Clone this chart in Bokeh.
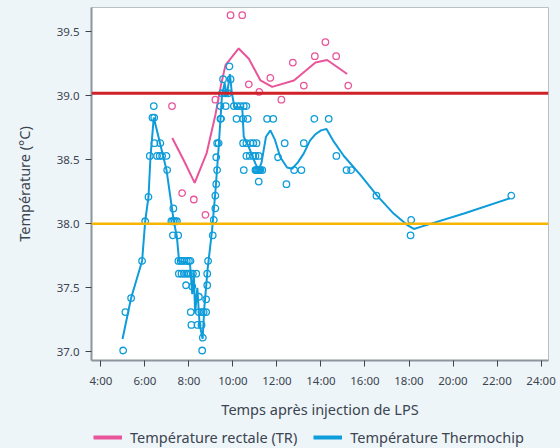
from bokeh.plotting import figure
from bokeh.layouts import column
from bokeh.models import FixedTicker, Span, Legend, LegendItem, Range1d
from bokeh.embed import file_html
from bokeh.resources import INLINE

# ---- data (hours after LPS injection, temperature in °C) ----
tc_t = [5.01, 5.11, 5.37, 5.87, 6.01, 6.16, 6.22, 6.34, 6.42, 6.40, 6.43, 6.70,
        6.55, 6.67, 6.78, 6.98, 7.01, 7.29,
        7.20, 7.28, 7.36, 7.45, 7.27, 7.51,
        7.52, 7.62, 7.70, 7.80, 7.90, 8.00, 8.07,
        7.54, 7.66, 7.77, 7.88, 7.98, 8.08, 8.18, 8.33,
        7.87, 8.15, 8.45,
        8.08, 8.45, 8.57, 8.67, 8.78,
        8.11, 8.39, 8.57, 8.63, 8.60,
        8.78, 8.83, 8.83, 8.87, 9.08, 9.13, 9.20, 9.20, 9.24, 9.28, 9.24, 9.28, 9.35,
        9.43, 9.46, 9.43, 9.67, 9.51, 9.66, 9.78, 9.55, 9.89, 9.84,
        10.04, 10.19, 10.34, 10.49, 10.61,
        10.16, 10.46, 10.67, 11.55, 11.83,
        10.46, 10.61, 10.80, 10.92, 11.07,
        10.61, 10.76, 10.92, 11.02, 11.17,
        10.49, 11.02, 11.06, 11.10, 11.15, 11.20, 11.25, 11.33,
        11.17, 12.05, 12.35, 12.43, 12.78, 13.11, 13.22, 13.70, 14.35, 14.70,
        15.16, 15.37, 16.52, 18.10, 18.07, 22.65]
tc_v = [37.01, 37.31, 37.42, 37.71, 38.02, 38.21, 38.53, 38.83, 38.83, 38.92, 38.63, 38.63,
        38.53, 38.53, 38.53, 38.53, 38.42, 38.12,
        38.02, 38.02, 38.02, 38.02, 37.91, 37.91,
        37.71, 37.71, 37.71, 37.71, 37.71, 37.71, 37.71,
        37.61, 37.61, 37.61, 37.61, 37.61, 37.61, 37.61, 37.61,
        37.52, 37.51, 37.43,
        37.31, 37.31, 37.31, 37.31, 37.31,
        37.21, 37.21, 37.21, 37.11, 37.01,
        37.41, 37.52, 37.61, 37.71, 37.91, 38.03, 38.12, 38.22, 38.31, 38.42, 38.52, 38.63, 38.63,
        38.82, 38.82, 38.92, 38.92, 39.02, 39.02, 39.02, 39.13, 39.13, 39.23,
        38.92, 38.92, 38.92, 38.92, 38.92,
        38.82, 38.82, 38.82, 38.82, 38.82,
        38.63, 38.63, 38.63, 38.63, 38.63,
        38.53, 38.53, 38.53, 38.53, 38.53,
        38.42, 38.42, 38.42, 38.42, 38.42, 38.42, 38.42, 38.42,
        38.33, 38.52, 38.63, 38.31, 38.42, 38.42, 38.63, 38.82, 38.82, 38.53,
        38.42, 38.42, 38.22, 38.03, 37.91, 38.22]

tc_line_t = [4.98, 5.37, 5.87, 6.01, 6.16, 6.25, 6.40, 6.98, 7.31, 7.45, 7.55, 7.85, 8.05,
             8.15, 8.22, 8.28, 8.38, 8.48, 8.62, 8.70, 8.85, 9.05, 9.20, 9.35, 9.50, 9.62,
             9.72, 9.86, 9.95, 10.07, 10.42, 10.49, 10.72, 11.02, 11.17, 11.30, 11.50, 11.70,
             11.90, 12.15, 12.46, 12.69, 12.95, 13.22, 13.50, 13.75, 14.00, 14.25, 14.55,
             15.04, 15.80, 16.55, 17.30, 17.92, 18.22, 18.60, 20.50, 22.60]
tc_line_v = [37.10, 37.42, 37.71, 38.02, 38.21, 38.52, 38.83, 38.42, 38.02, 37.90, 37.71, 37.70, 37.68,
             37.45, 37.62, 37.30, 37.50, 37.22, 37.10, 37.35, 37.65, 37.95, 38.25, 38.60, 39.00, 39.10,
             39.00, 39.17, 39.02, 38.91, 38.91, 38.68, 38.60, 38.47, 38.42, 38.48, 38.68, 38.73,
             38.66, 38.52, 38.44, 38.43, 38.48, 38.55, 38.65, 38.70, 38.73, 38.74, 38.65,
             38.53, 38.38, 38.22, 38.08, 37.99, 37.96, 37.98, 38.08, 38.20]

tr_t = [7.23, 7.69, 8.22, 8.75, 9.20, 9.89, 10.42, 10.72, 11.20, 11.70, 12.20, 12.72,
        13.22, 13.72, 14.20, 14.69, 15.24]
tr_v = [38.92, 38.24, 38.19, 38.07, 38.97, 39.63, 39.63, 39.09, 39.03, 39.14, 38.97, 39.26,
        39.08, 39.31, 39.42, 39.31, 39.08]

tr_line_t = [7.24, 7.75, 8.26, 8.80, 9.20, 9.45, 9.66, 10.26, 10.72, 11.25, 11.78, 12.77,
             13.75, 14.28, 15.19]
tr_line_v = [38.67, 38.50, 38.32, 38.55, 38.85, 39.08, 39.24, 39.37, 39.29, 39.12, 39.07, 39.12,
             39.26, 39.28, 39.17]

x_ticks = [4, 6, 8, 10, 12, 14, 16, 18, 20, 22, 24]
x_tick_labels = ["4:00", "6:00", "8:00", "10:00", "12:00", "14:00", "16:00", "18:00",
                 "20:00", "22:00", "24:00"]
y_ticks = [37.0, 37.5, 38.0, 38.5, 39.0, 39.5]
y_tick_labels = ["37.0", "37.5", "38.0", "38.5", "39.0", "39.5"]
series_names = ["Température rectale (TR)", "Température Thermochip"]

fever_threshold = 39.02
low_threshold = 38.0

PINK = "#E8559A"
BLUE = "#0E9CDA"
RED = "#CF2228"
ORANGE = "#F7B500"
BG = "#EEF5F8"
TXT = "#3B4450"
AX = "#8C969C"
FONT = "Noto Sans"

p = figure(frame_width=457, frame_height=353, output_backend="svg", toolbar_location=None,
           x_range=Range1d(3.57, 24.34), y_range=Range1d(36.932, 39.69),
           min_border_left=91, min_border_right=12, min_border_top=7, min_border_bottom=60)
p.background_fill_color = "white"
p.border_fill_color = BG
p.outline_line_color = "#B8C0C4"
p.outline_line_width = 1
p.xgrid.visible = False
p.ygrid.visible = False

p.add_layout(Span(location=fever_threshold, dimension="width", line_color=RED, line_width=3))
p.add_layout(Span(location=low_threshold, dimension="width", line_color=ORANGE, line_width=2.5))

p.line(tc_line_t, tc_line_v, line_color=BLUE, line_width=2)
p.line(tr_line_t, tr_line_v, line_color=PINK, line_width=2)
p.scatter(tc_t, tc_v, marker="circle", size=6.5, fill_color=None, line_color=BLUE, line_width=1.3)
p.scatter(tr_t, tr_v, marker="circle", size=6.5, fill_color=None, line_color=PINK, line_width=1.3)

p.xaxis.ticker = FixedTicker(ticks=x_ticks)
p.xaxis.major_label_overrides = {t: l for t, l in zip(x_ticks, x_tick_labels)}
p.yaxis.ticker = FixedTicker(ticks=y_ticks)
p.yaxis.major_label_overrides = {t: l for t, l in zip(y_ticks, y_tick_labels)}

for ax in (p.xaxis, p.yaxis):
    ax.axis_line_color = AX
    ax.axis_line_width = 2
    ax.major_tick_line_color = TXT
    ax.major_tick_line_width = 1
    ax.major_tick_out = 6
    ax.major_tick_in = 0
    ax.minor_tick_line_color = None
    ax.major_label_text_font = FONT
    ax.major_label_text_font_size = "11.5px"
    ax.major_label_text_color = TXT
    ax.axis_label_text_font = FONT
    ax.axis_label_text_font_size = "14.5px"
    ax.axis_label_text_font_style = "normal"
    ax.axis_label_text_color = TXT

p.xaxis.axis_label = "Temps après injection de LPS"
p.yaxis.axis_label = "Température (°C)"
p.xaxis.major_label_standoff = 6
p.xaxis.axis_label_standoff = 8
p.yaxis.major_label_standoff = 6
p.yaxis.axis_label_standoff = 20

# ---- legend strip below the chart (its frame is aligned with the chart frame) ----
lg = figure(width=560, height=28, output_backend="svg", toolbar_location=None,
            x_range=Range1d(0, 1), y_range=Range1d(0, 1),
            min_border_left=0, min_border_right=0, min_border_top=0, min_border_bottom=0)
lg.axis.visible = False
lg.xgrid.visible = False
lg.ygrid.visible = False
lg.outline_line_color = None
lg.background_fill_color = BG
lg.border_fill_color = BG
leg_tr = lg.line([-2, -1], [-2, -2], line_color=PINK, line_width=4)
leg_tc = lg.line([-2, -1], [-2, -2], line_color=BLUE, line_width=4)
legend = Legend(items=[LegendItem(label=series_names[0], renderers=[leg_tr]),
                       LegendItem(label=series_names[1], renderers=[leg_tc])],
                orientation="horizontal", location=(2, 2),
                background_fill_alpha=0, border_line_color=None,
                label_text_font=FONT, label_text_font_size="14.5px", label_text_color=TXT,
                label_height=16, glyph_width=29, glyph_height=16, spacing=16, padding=0,
                margin=0, label_standoff=8)
lg.add_layout(legend, "center")

layout = column(p, lg, spacing=0)
html = file_html(layout, INLINE)
html = html.replace("</head>", "<style>body{background-color:%s;}</style></head>" % BG, 1)
open("out.html", "w").write(html)
